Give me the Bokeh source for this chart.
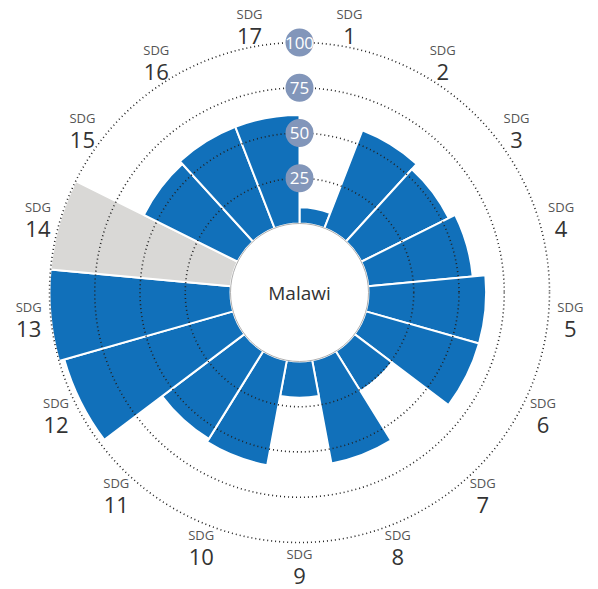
import math
from bokeh.plotting import figure
from bokeh.models import ColumnDataSource
from bokeh.core.properties import value
from bokeh.embed import file_html
from bokeh.resources import INLINE

# ---- data ----
country = "Malawi"
goals = ["1", "2", "3", "4", "5", "6", "7", "8", "9", "10", "11", "12", "13", "14", "15", "16", "17"]
scores = [9, 58, 54, 58, 65, 65, 26, 58, 20, 59, 57, 97, 100, None, 58, 60, 60]
grid_ticks = [25, 50, 75, 100]
scale_max = 100

# ---- geometry (1 data unit = 1 px) ----
W, H = 598, 589
cx_img, cy_img = 299, 292
R0 = 69.0
K = 1.81
def rad(v):
    return R0 + K * v

n = len(goals)
step = 2 * math.pi / n

p = figure(width=W, height=H, output_backend="svg", toolbar_location=None,
           x_range=(-cx_img, W - cx_img), y_range=(cy_img - H, cy_img),
           min_border=0, outline_line_color=None)
p.axis.visible = False
p.grid.visible = False
p.background_fill_color = "white"
p.border_fill_color = "white"

# bars
bx, by, bin_, bout, bs, be, bc = [], [], [], [], [], [], []
for i, s in enumerate(scores):
    start = math.pi / 2 - (i + 1) * step
    end = math.pi / 2 - i * step
    bx.append(0); by.append(0)
    bin_.append(R0)
    if s is None:
        bout.append(rad(scale_max)); bc.append("#d9d8d6")
    else:
        bout.append(rad(s)); bc.append("#1170ba")
    bs.append(start); be.append(end)
src = ColumnDataSource(dict(x=bx, y=by, inner=bin_, outer=bout, start=bs, end=be, color=bc))
p.annular_wedge(x="x", y="y", inner_radius="inner", outer_radius="outer",
                start_angle="start", end_angle="end", fill_color="color",
                line_color="white", line_width=2, source=src)

# inner circle
p.circle(x=[0], y=[0], radius=[R0], fill_color="white", line_color="#9a9a9a", line_width=0.8)

# dotted grid circles
p.circle(x=[0] * len(grid_ticks), y=[0] * len(grid_ticks), radius=[rad(t) for t in grid_ticks],
         fill_color=None, line_color="#222222", line_width=1.6, line_dash="1 3")

# tick badges
ty = [rad(t) for t in grid_ticks]
p.circle(x=[0] * len(grid_ticks), y=ty, radius=[14] * len(grid_ticks),
         fill_color="#8296ba", line_color=None)
p.text(x=[0] * len(grid_ticks), y=ty, text=[str(t) for t in grid_ticks],
       text_align="center", text_baseline="middle", text_color="white",
       text_font=value("Open Sans"), text_font_size="17px")

# center label
p.text(x=[0], y=[0], text=[country], text_align="center", text_baseline="middle",
       text_color="#333333", text_font=value("Open Sans"), text_font_size="19px")

# goal labels
RL = 272
lx, ly = [], []
for i in range(n):
    a = (i + 0.5) * step
    lx.append(RL * math.sin(a)); ly.append(RL * math.cos(a))
p.text(x=lx, y=[y + 11 for y in ly], text=["SDG"] * n, text_align="center",
       text_baseline="middle", text_color="#555555", text_font=value("Open Sans"),
       text_font_size="13px")
p.text(x=lx, y=[y - 11 for y in ly], text=goals, text_align="center",
       text_baseline="middle", text_color="#333333", text_font=value("Open Sans"),
       text_font_size="22px")

open("out.html", "w").write(file_html(p, INLINE))
